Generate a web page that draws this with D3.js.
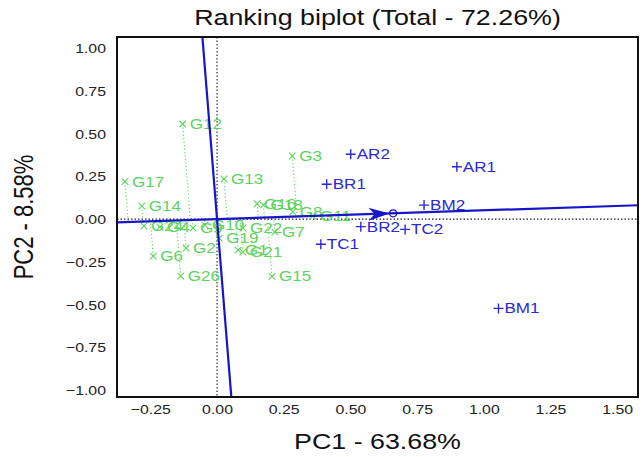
<!DOCTYPE html>
<html>
<head>
<meta charset="utf-8">
<script src="https://cdn.jsdelivr.net/npm/d3@7"></script>
<style>
  html, body { margin: 0; padding: 0; background: #fff; }
  svg { display: block; font-family: "Liberation Sans", Arial, Helvetica, sans-serif; }
</style>
</head>
<body>
<svg id="chart" width="642" height="457"></svg>
<script>
// Genotype scores (PC1, PC2)
const genotypes = ["G12", "G17", "G13", "G3", "G14", "G16", "G18", "G8", "G11", "G24", "G4", "G9", "G10",
                   "G2", "G6", "G26", "G19", "G22", "G7", "G1", "G21", "G15"];
const genoPC1 = [-0.129, -0.345, 0.026, 0.282, -0.282, 0.150, 0.174, 0.284, 0.360, -0.274, -0.214, -0.090, -0.045,
                 -0.116, -0.239, -0.136, 0.008, 0.097, 0.217, 0.079, 0.097, 0.206];
const genoPC2 = [0.556, 0.219, 0.235, 0.369, 0.077, 0.090, 0.082, 0.043, 0.018, -0.040, -0.046, -0.052, -0.035,
                 -0.169, -0.216, -0.333, -0.111, -0.052, -0.076, -0.181, -0.193, -0.335];

// Environment scores (PC1, PC2)
const environments = ["AR2", "AR1", "BR1", "BM2", "BR2", "TC2", "TC1", "BM1"];
const envPC1 = [0.501, 0.899, 0.411, 0.776, 0.539, 0.705, 0.389, 1.055];
const envPC2 = [0.379, 0.306, 0.204, 0.082, -0.044, -0.060, -0.147, -0.522];

// Average environment coordinate (defines the average-environment axis)
const avgEnv = [0.66, 0.034];

const xTicks = [-0.25, 0, 0.25, 0.5, 0.75, 1, 1.25, 1.5];
const yTicks = [-1, -0.75, -0.5, -0.25, 0, 0.25, 0.5, 0.75, 1];

const titleText = "Ranking biplot (Total - 72.26%)";
const xTitle = "PC1 - 63.68%";
const yTitle = "PC2 - 8.58%";

// ---- layout ----
const box = { left: 117, right: 638, top: 37, bottom: 397 };
const SX = 1.22;               // horizontal stretch applied to text
const green = "#5cd35c";
const blue = "#1616c8";
const envBlue = "#2a2ad0";

const x = d3.scaleLinear().domain([-0.375, 1.578]).range([box.left, box.right]);
const y = d3.scaleLinear().domain([-1.04, 1.065]).range([box.bottom, box.top]);

const svg = d3.select("#chart");

svg.append("defs").append("clipPath").attr("id", "plotClip")
  .append("rect")
  .attr("x", box.left).attr("y", box.top)
  .attr("width", box.right - box.left).attr("height", box.bottom - box.top);

const plot = svg.append("g").attr("clip-path", "url(#plotClip)");

// reference dotted lines at zero
plot.append("line")
  .attr("x1", x(0)).attr("x2", x(0)).attr("y1", box.top).attr("y2", box.bottom)
  .attr("stroke", "#222").attr("stroke-width", 1.1).attr("stroke-dasharray", "1.5,2");
plot.append("line")
  .attr("x1", box.left).attr("x2", box.right).attr("y1", y(0)).attr("y2", y(0))
  .attr("stroke", "#222").attr("stroke-width", 1.1).attr("stroke-dasharray", "1.5,2");

// projections of genotypes onto the average-environment axis
const aa = avgEnv[0] * avgEnv[0] + avgEnv[1] * avgEnv[1];
const geno = genotypes.map((name, i) => {
  const gx = genoPC1[i], gy = genoPC2[i];
  const t = (gx * avgEnv[0] + gy * avgEnv[1]) / aa;
  return { name, gx, gy, fx: t * avgEnv[0], fy: t * avgEnv[1] };
});

plot.selectAll("line.proj").data(geno).join("line")
  .attr("class", "proj")
  .attr("x1", d => x(d.gx)).attr("y1", d => y(d.gy))
  .attr("x2", d => x(d.fx)).attr("y2", d => y(d.fy))
  .attr("stroke", green).attr("stroke-width", 1.1).attr("stroke-dasharray", "1.2,2.3");

// genotype markers (x) and labels
const xs = 3.3;
plot.selectAll("path.gmark").data(geno).join("path")
  .attr("class", "gmark")
  .attr("d", d => {
    const cx = x(d.gx), cy = y(d.gy);
    return `M${cx - xs},${cy - xs}L${cx + xs},${cy + xs}M${cx - xs},${cy + xs}L${cx + xs},${cy - xs}`;
  })
  .attr("stroke", green).attr("stroke-width", 1.1).attr("fill", "none");

plot.selectAll("text.glab").data(geno).join("text")
  .attr("class", "glab")
  .attr("transform", d => `translate(${x(d.gx) + 7},${y(d.gy) + 5}) scale(${SX},1)`)
  .attr("font-size", 14)
  .attr("fill", green)
  .text(d => d.name);

// average-environment axis and its perpendicular, both through the origin
const ext = 40;
plot.append("line")
  .attr("x1", x(-ext * avgEnv[0])).attr("y1", y(-ext * avgEnv[1]))
  .attr("x2", x(ext * avgEnv[0])).attr("y2", y(ext * avgEnv[1]))
  .attr("stroke", blue).attr("stroke-width", 2.2);
plot.append("line")
  .attr("x1", x(-ext * -avgEnv[1])).attr("y1", y(-ext * avgEnv[0]))
  .attr("x2", x(ext * -avgEnv[1])).attr("y2", y(ext * avgEnv[0]))
  .attr("stroke", blue).attr("stroke-width", 2.2);

// arrow pointing to the average environment
const ax0 = x(0), ay0 = y(0), ax1 = x(avgEnv[0]), ay1 = y(avgEnv[1]);
const ang = Math.atan2(ay1 - ay0, ax1 - ax0) * 180 / Math.PI;
const r = 3.5;
plot.append("path")
  .attr("d", "M0,0L-21,-6.5L-15,0L-21,6.5Z")
  .attr("transform", `translate(${ax1 - r * Math.cos(ang * Math.PI / 180)},${ay1 - r * Math.sin(ang * Math.PI / 180)}) rotate(${ang})`)
  .attr("fill", blue);
plot.append("circle")
  .attr("cx", ax1).attr("cy", ay1).attr("r", r)
  .attr("fill", "none").attr("stroke", blue).attr("stroke-width", 1.2);

// environment markers (+) and labels
const env = environments.map((name, i) => ({ name, ex: envPC1[i], ey: envPC2[i] }));
const ps = 5;
plot.selectAll("path.emark").data(env).join("path")
  .attr("class", "emark")
  .attr("d", d => {
    const cx = x(d.ex), cy = y(d.ey);
    return `M${cx - ps},${cy}L${cx + ps},${cy}M${cx},${cy - ps}L${cx},${cy + ps}`;
  })
  .attr("stroke", envBlue).attr("stroke-width", 1.4).attr("fill", "none");
plot.selectAll("text.elab").data(env).join("text")
  .attr("class", "elab")
  .attr("transform", d => `translate(${x(d.ex) + 6},${y(d.ey) + 5}) scale(${SX},1)`)
  .attr("font-size", 14)
  .attr("fill", envBlue)
  .text(d => d.name);

// frame
svg.append("rect")
  .attr("x", box.left).attr("y", box.top)
  .attr("width", box.right - box.left).attr("height", box.bottom - box.top)
  .attr("fill", "none").attr("stroke", "#111").attr("stroke-width", 2);

// axes
const fmt = d3.format(".2f");
const gx = svg.append("g").attr("transform", `translate(0,${box.bottom})`)
  .call(d3.axisBottom(x).tickValues(xTicks).tickFormat(fmt).tickSize(0));
gx.select(".domain").remove();
gx.selectAll("text")
  .attr("y", 8).attr("dy", "0.71em")
  .attr("transform", `scale(${SX},1)`)
  .attr("font-size", 13).attr("fill", "#222")
  .attr("font-family", "Liberation Sans, Arial, sans-serif");

const gy = svg.append("g").attr("transform", `translate(${box.left},0)`)
  .call(d3.axisLeft(y).tickValues(yTicks).tickFormat(fmt).tickSize(0));
gy.select(".domain").remove();
gy.selectAll("text")
  .attr("x", -9).attr("dy", "0.34em")
  .attr("transform", `scale(${SX},1)`)
  .attr("font-size", 13).attr("fill", "#222")
  .attr("font-family", "Liberation Sans, Arial, sans-serif");

// titles
const cx = (box.left + box.right) / 2;
svg.append("text")
  .attr("transform", `translate(${cx},25) scale(${SX},1)`)
  .attr("text-anchor", "middle").attr("font-size", 22).attr("fill", "#111")
  .text(titleText);
svg.append("text")
  .attr("transform", `translate(${cx},449) scale(${SX},1)`)
  .attr("text-anchor", "middle").attr("font-size", 22).attr("fill", "#111")
  .text(xTitle);
svg.append("text")
  .attr("transform", `translate(33,${(box.top + box.bottom) / 2}) scale(${SX},1) rotate(-90)`)
  .attr("text-anchor", "middle").attr("font-size", 22).attr("fill", "#111")
  .text(yTitle);
</script>
</body>
</html>
